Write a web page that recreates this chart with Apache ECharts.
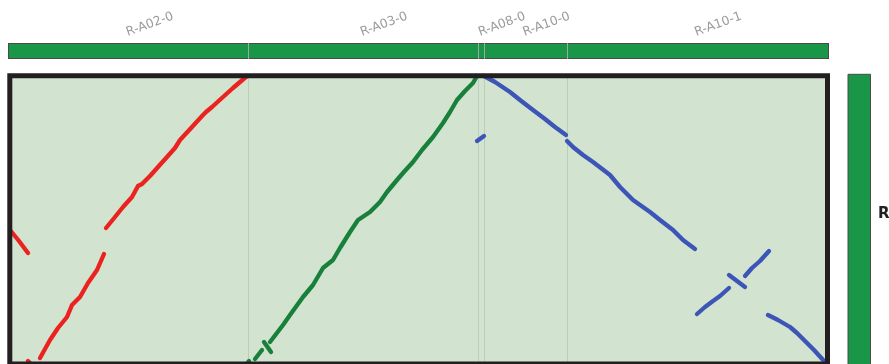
<!DOCTYPE html>
<html><head><meta charset="utf-8">
<script src="https://cdn.jsdelivr.net/npm/echarts@6/dist/echarts.min.js"></script>
<style>html,body{margin:0;padding:0;background:#fff;overflow:hidden}#c{width:889px;height:364px}</style>
</head><body><div id="c"></div>
<script>
// ---- data ----
const xChromNames = ['R-A02-0', 'R-A03-0', 'R-A08-0', 'R-A10-0', 'R-A10-1'];
const xChromBounds = [0, 23.82, 46.82, 47.42, 55.72, 81.77];
const yChromName = 'R';
const yChromBounds = [0, 28.82];

const redSegments = [
  [[0.02,13.4],[0.92,12.3],[1.82,11.1]],
  [[1.82,0.3],[2.12,0.0]],
  [[3.02,0.6],[4.02,2.4],[4.82,3.6],[5.72,4.7],[6.22,5.9],[7.02,6.7],[7.82,8.1],[8.72,9.4],[9.42,11.0]],
  [[9.62,13.6],[10.52,14.7],[11.32,15.7],[12.22,16.7],[12.82,17.8],[13.22,18.0],[14.02,18.8],[14.82,19.7],
   [15.72,20.7],[16.52,21.6],[17.02,22.4],[18.22,23.7],[19.32,24.9],[19.62,25.2],[20.22,25.7],[21.32,26.7],
   [22.32,27.6],[23.72,28.8]]
];
const greenSegments = [
  [[23.72,0.0],[23.92,0.3]],
  [[24.52,0.5],[25.22,1.4]],
  [[25.42,2.2],[26.12,1.2]],
  [[26.02,2.2],[27.32,3.9],[28.02,4.9],[29.32,6.7],[30.32,7.9],[31.32,9.6],[32.32,10.4],[33.02,11.6],
   [34.02,13.2],[34.82,14.4],[36.02,15.2],[37.02,16.2],[37.72,17.2],[38.72,18.4],[39.32,19.1],[40.32,20.2],
   [41.22,21.4],[42.32,22.7],[43.32,24.1],[44.02,25.2],[44.72,26.4],[45.52,27.3],[46.32,28.1],[46.72,28.8]]
];
const blueSegments = [
  [[47.42,28.8],[48.52,28.2],[50.02,27.2],[51.02,26.4],[52.32,25.4],[53.52,24.5],[54.52,23.7],[55.62,22.9]],
  [[46.72,22.3],[47.42,22.8]],
  [[55.72,22.3],[56.32,21.7],[57.32,20.9],[58.32,20.2],[60.02,18.9],[61.02,17.7],[62.32,16.4],[64.02,15.2],
   [65.02,14.4],[66.32,13.4],[67.32,12.4],[68.52,11.5]],
  [[68.72,5.0],[69.52,5.7],[70.32,6.3],[71.02,6.8],[71.92,7.6]],
  [[71.92,8.9],[73.52,7.7]],
  [[73.52,8.8],[74.22,9.6],[75.02,10.3],[75.92,11.3]],
  [[75.82,4.9],[76.82,4.4],[78.02,3.7],[78.72,3.1],[79.52,2.3],[80.42,1.4],[81.42,0.3]]
];

// ---- styles ----
const BAR_GREEN = '#1a9649';
const RED = '#ea2320', GREEN = '#18803b', BLUE = '#3c55b7';

const chart = echarts.init(document.getElementById('c'), null, {renderer: 'canvas'});

function segSeries(segs, color) {
  return segs.map(s => ({
    type: 'line', data: s, showSymbol: false, symbol: 'none', z: 3, silent: true,
    clip: false,
    lineStyle: {color: color, width: 4.3, cap: 'round', join: 'round'}
  }));
}

const topBarData = xChromNames.map((n, i) => [xChromBounds[i], xChromBounds[i + 1], i]);
const dividerData = xChromBounds.slice(1, -1).map(v => [v]);

const series = [
  {
    type: 'custom', z: 1, silent: true, data: dividerData,
    renderItem: (params, api) => {
      const cs = params.coordSys;
      const x = Math.round(api.coord([api.value(0), 0])[0]) + 0.5;
      return {type: 'line', shape: {x1: x, y1: cs.y, x2: x, y2: cs.y + cs.height},
        style: {stroke: '#bccdba', lineWidth: 1}};
    }
  },
  ...segSeries(redSegments, RED),
  ...segSeries(greenSegments, GREEN),
  ...segSeries(blueSegments, BLUE),
  {
    type: 'custom', z: 5, silent: true, data: [[0]],
    renderItem: (params) => {
      const cs = params.coordSys;
      return {type: 'rect', shape: {x: cs.x, y: cs.y, width: cs.width, height: cs.height},
        style: {fill: null, stroke: '#231f20', lineWidth: 5}};
    }
  },
  {
    type: 'custom', z: 4, silent: true, data: topBarData,
    renderItem: (params, api) => {
      const i = api.value(2);
      const s = api.value(0), e = api.value(1);
      let x0 = api.coord([s, 0])[0];
      let x1 = api.coord([e, 0])[0];
      const first = i === 0, last = i === xChromNames.length - 1;
      if (first) x0 -= 1.5;
      if (last) x1 += 1.5;
      const y0 = 43, h = 16;
      const cx = api.coord([(s + e) / 2, 0])[0];
      const children = [
        {type: 'rect', shape: {x: x0, y: y0, width: x1 - x0, height: h}, style: {fill: BAR_GREEN}},
        {type: 'line', shape: {x1: x0, y1: y0 + 0.5, x2: x1, y2: y0 + 0.5}, style: {stroke: '#4a4a4a', lineWidth: 1}},
        {type: 'line', shape: {x1: x0, y1: y0 + h - 0.5, x2: x1, y2: y0 + h - 0.5}, style: {stroke: '#4a4a4a', lineWidth: 1}},
        {type: 'line', shape: {x1: Math.round(x0) + 0.5, y1: y0, x2: Math.round(x0) + 0.5, y2: y0 + h},
          style: {stroke: first ? '#4a4a4a' : '#9fa8a1', lineWidth: 1}},
        {type: 'text', x: cx, y: 39, rotation: 20 * Math.PI / 180,
          style: {text: xChromNames[i], fill: '#9b9b9b', font: '12.5px "DejaVu Sans"',
            textAlign: 'left', textVerticalAlign: 'bottom'}}
      ];
      if (last) children.push({type: 'line', shape: {x1: Math.round(x1) - 0.5, y1: y0, x2: Math.round(x1) - 0.5, y2: y0 + h},
        style: {stroke: '#4a4a4a', lineWidth: 1}});
      return {type: 'group', children};
    }
  },
  {
    type: 'custom', z: 4, silent: true, data: [[yChromBounds[0], yChromBounds[1]]],
    renderItem: (params, api) => {
      const cs = params.coordSys;
      const x = cs.x + cs.width + 21;
      const yTop = api.coord([0, api.value(1)])[1] - 1;
      const yBot = api.coord([0, api.value(0)])[1] + 10;
      const yMid = api.coord([0, (api.value(0) + api.value(1)) / 2])[1];
      return {type: 'group', children: [
        {type: 'rect', shape: {x: x - 0.5, y: yTop - 0.5, width: 22.5, height: yBot - yTop},
          style: {fill: BAR_GREEN, stroke: '#4a4a4a', lineWidth: 1}},
        {type: 'text', x: 878, y: yMid - 6,
          style: {text: yChromName, fill: '#222', font: 'bold 15px "DejaVu Sans"',
            textAlign: 'left', textVerticalAlign: 'middle'}}
      ]};
    }
  }
];

chart.setOption({
  animation: false,
  grid: {left: 9.8, right: 61.5, top: 75.8, bottom: 0, show: true,
    backgroundColor: '#d2e3cf', borderWidth: 0},
  xAxis: {type: 'value', min: xChromBounds[0], max: xChromBounds[xChromBounds.length - 1], show: false},
  yAxis: {type: 'value', min: yChromBounds[0], max: yChromBounds[1], show: false},
  series
});
</script>
</body></html>
